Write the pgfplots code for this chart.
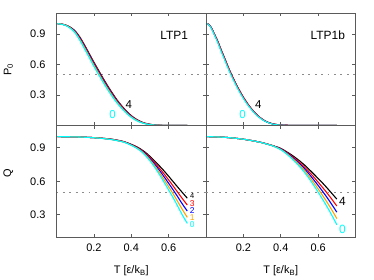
\documentclass[border=0pt]{standalone}
\usepackage{fontspec}
\setmainfont{Liberation Sans}
\usepackage{pgfplots}
\usepackage{pgfplotstable}
\pgfplotsset{compat=1.18}
\definecolor{fr}{RGB}{90,90,90}
\definecolor{dotg}{RGB}{140,140,140}
\definecolor{cy}{RGB}{0,255,255}
\definecolor{orr}{RGB}{255,165,0}
\definecolor{bl}{RGB}{0,0,255}
\definecolor{rd}{RGB}{255,0,0}

% P0, LTP1
\pgfplotstableread{
T c0 c1 c2 c3 c4
0.005 1.000 1.000 1.000 1.000 1.000
0.025 0.995 0.996 0.996 0.997 0.997
0.05 0.981 0.983 0.984 0.985 0.986
0.075 0.953 0.957 0.960 0.962 0.964
0.1 0.908 0.914 0.920 0.924 0.928
0.125 0.836 0.846 0.855 0.862 0.868
0.15 0.753 0.765 0.775 0.783 0.790
0.175 0.667 0.679 0.690 0.698 0.706
0.2 0.581 0.594 0.605 0.614 0.622
0.225 0.501 0.514 0.525 0.534 0.542
0.25 0.422 0.434 0.445 0.454 0.462
0.275 0.348 0.360 0.370 0.378 0.386
0.3 0.280 0.291 0.300 0.308 0.315
0.325 0.218 0.227 0.235 0.242 0.248
0.35 0.165 0.173 0.180 0.186 0.191
0.375 0.118 0.124 0.130 0.135 0.139
0.4 0.080 0.085 0.090 0.094 0.097
0.425 0.051 0.055 0.058 0.061 0.064
0.45 0.030 0.033 0.035 0.037 0.039
0.475 0.017 0.018 0.020 0.021 0.022
0.5 0.008 0.009 0.010 0.011 0.012
0.525 0.004 0.004 0.005 0.005 0.006
0.55 0.001 0.002 0.002 0.002 0.003
0.6 0.000 0.000 0.000 0.000 0.000
0.65 0.000 0.000 0.000 0.000 0.000
0.7 0.000 0.000 0.000 0.000 0.000
}\tabTL

% P0, LTP1b
\pgfplotstableread{
T c0 c4
0.006 1.000 1.000
0.015 0.989 0.992
0.028 0.955 0.961
0.045 0.888 0.897
0.063 0.813 0.825
0.080 0.731 0.745
0.099 0.648 0.662
0.116 0.570 0.584
0.134 0.494 0.508
0.152 0.425 0.439
0.170 0.360 0.373
0.188 0.301 0.313
0.205 0.250 0.261
0.223 0.202 0.212
0.241 0.160 0.168
0.258 0.124 0.131
0.276 0.092 0.098
0.294 0.066 0.071
0.312 0.045 0.048
0.330 0.030 0.032
0.347 0.019 0.021
0.365 0.011 0.013
0.383 0.006 0.008
0.42 0.002 0.003
0.46 0.001 0.001
0.5 0.000 0.000
0.6 0.000 0.000
0.7 0.000 0.000
}\tabTR

% Q, LTP1
\pgfplotstableread{
T c0 c1 c2 c3 c4
0.005 1.000 1.000 1.000 1.000 1.000
0.05 0.999 0.999 0.999 0.999 0.999
0.1 0.998 0.998 0.998 0.998 0.998
0.15 0.995 0.995 0.995 0.995 0.995
0.2 0.990 0.991 0.991 0.991 0.991
0.25 0.983 0.984 0.984 0.985 0.985
0.3 0.972 0.973 0.974 0.975 0.976
0.35 0.955 0.956 0.957 0.959 0.960
0.375 0.941 0.943 0.945 0.946 0.947
0.4 0.922 0.924 0.927 0.929 0.931
0.425 0.900 0.903 0.906 0.909 0.913
0.45 0.872 0.876 0.880 0.884 0.889
0.475 0.832 0.839 0.846 0.852 0.860
0.5 0.783 0.793 0.803 0.812 0.823
0.525 0.727 0.740 0.754 0.767 0.782
0.55 0.662 0.680 0.700 0.718 0.739
0.575 0.593 0.617 0.642 0.667 0.694
0.6 0.522 0.552 0.582 0.612 0.645
0.625 0.450 0.485 0.521 0.556 0.595
0.65 0.372 0.414 0.457 0.498 0.545
0.675 0.293 0.342 0.392 0.441 0.496
0.7 0.222 0.276 0.333 0.387 0.448
}\tabBL

% Q, LTP1b
\pgfplotstableread{
T c0 c1 c2 c3 c4
0.005 1.000 1.000 1.000 1.000 1.000
0.05 0.998 0.998 0.998 0.998 0.998
0.1 0.994 0.994 0.994 0.994 0.994
0.15 0.987 0.987 0.987 0.987 0.987
0.2 0.977 0.977 0.977 0.977 0.977
0.25 0.963 0.963 0.963 0.963 0.963
0.3 0.945 0.945 0.946 0.946 0.946
0.35 0.921 0.922 0.922 0.923 0.923
0.375 0.904 0.905 0.907 0.908 0.910
0.4 0.883 0.886 0.889 0.892 0.895
0.425 0.853 0.857 0.862 0.866 0.871
0.45 0.817 0.824 0.831 0.837 0.845
0.475 0.776 0.786 0.796 0.805 0.816
0.5 0.733 0.745 0.758 0.770 0.784
0.525 0.684 0.700 0.716 0.731 0.749
0.55 0.628 0.647 0.668 0.687 0.709
0.575 0.567 0.591 0.616 0.641 0.668
0.6 0.503 0.532 0.563 0.592 0.625
0.625 0.435 0.470 0.507 0.542 0.582
0.65 0.365 0.406 0.449 0.490 0.536
0.675 0.290 0.338 0.387 0.435 0.488
0.7 0.210 0.265 0.323 0.378 0.440
}\tabBR

\pgfplotsset{
  panel/.style={
    scale only axis, width=149.5bp,
    xmin=0, xmax=0.8, xtick={0.2,0.4,0.6}, ytick={0.3,0.6,0.9},
    tick align=inside, major tick length=3bp,
    axis line style={fr, line width=0.8bp},
    tick style={fr, line width=0.6bp},
    tick label style={font=\fontsize{11}{13}\selectfont,
      /pgf/number format/assume math mode=true, /pgf/number format/fixed},
    yticklabel style={xshift=-7.5bp},
    xticklabel style={yshift=-3bp},
    label style={font=\fontsize{11}{13}\selectfont},
    every axis plot/.append style={line width=1.1bp, smooth},
  },
  toprow/.style={height=112bp, ymin=0, ymax=1.1, xticklabels={}},
  botrow/.style={height=111.5bp, ymin=0.1, ymax=1.1,
    xlabel={T [ε/k\textsubscript{B}]},
    xlabel style={at={(axis description cs:0.5,-0.305)}, anchor=center}},
  dotl/.style={dotg, line width=1.1bp, dash pattern=on 1.8bp off 4.6bp, sharp plot},
}

\begin{document}
\begin{tikzpicture}
\path[use as bounding box] (0,0) rectangle (374bp,280bp);

% top left
\begin{axis}[panel, toprow, at={(56.5bp,154.5bp)}, anchor=south west,
  ylabel={P\textsubscript{0}},
  ylabel style={at={(axis description cs:-0.322,0.5)}, anchor=center}]
\addplot[dotl] coordinates {(0,0.5) (0.8,0.5)};
\addplot[black] table[x=T,y=c4] {\tabTL};
\addplot[rd] table[x=T,y=c3] {\tabTL};
\addplot[bl] table[x=T,y=c2] {\tabTL};
\addplot[orr] table[x=T,y=c1] {\tabTL};
\addplot[cy] table[x=T,y=c0] {\tabTL};
\node[font=\fontsize{12}{14}\selectfont] at (axis cs:0.63,0.888) {LTP1};
\node[font=\fontsize{11.5}{13}\selectfont, text=black] at (axis cs:0.387,0.21) {4};
\node[font=\fontsize{11.5}{13}\selectfont, text=cy] at (axis cs:0.30,0.11) {0};
\end{axis}

% top right
\begin{axis}[panel, toprow, at={(206bp,154.5bp)}, anchor=south west, yticklabels={}]
\addplot[dotl] coordinates {(0,0.5) (0.8,0.5)};
\addplot[black] table[x=T,y=c4] {\tabTR};
\addplot[orr] table[x=T,y=c4] {\tabTR};
\addplot[bl] table[x=T,y=c4] {\tabTR};
\addplot[rd] table[x=T,y=c4] {\tabTR};
\addplot[cy] table[x=T,y=c0] {\tabTR};
\node[font=\fontsize{12}{14}\selectfont] at (axis cs:0.652,0.888) {LTP1b};
\node[font=\fontsize{11.5}{13}\selectfont, text=black] at (axis cs:0.28,0.21) {4};
\node[font=\fontsize{11.5}{13}\selectfont, text=cy] at (axis cs:0.196,0.108) {0};
\end{axis}

% bottom left
\begin{axis}[panel, botrow, at={(56.5bp,43bp)}, anchor=south west,
  ylabel={Q},
  ylabel style={at={(axis description cs:-0.322,0.574)}, anchor=center}]
\addplot[dotl] coordinates {(0,0.5) (0.8,0.5)};
\addplot[black] table[x=T,y=c4] {\tabBL};
\addplot[rd] table[x=T,y=c3] {\tabBL};
\addplot[bl] table[x=T,y=c2] {\tabBL};
\addplot[orr] table[x=T,y=c1] {\tabBL};
\addplot[cy] table[x=T,y=c0] {\tabBL};
\node[font=\fontsize{7.5}{8}\selectfont, text=black] at (axis cs:0.726,0.464) {4};
\node[font=\fontsize{8.5}{9}\selectfont, text=rd] at (axis cs:0.726,0.398) {3};
\node[font=\fontsize{8.5}{9}\selectfont, text=bl] at (axis cs:0.726,0.335) {2};
\node[font=\fontsize{8.5}{9}\selectfont, text=orr] at (axis cs:0.726,0.272) {1};
\node[font=\fontsize{8.5}{9}\selectfont, text=cy] at (axis cs:0.726,0.21) {0};
\end{axis}

% bottom right
\begin{axis}[panel, botrow, at={(206bp,43bp)}, anchor=south west, yticklabels={}]
\addplot[dotl] coordinates {(0,0.5) (0.8,0.5)};
\addplot[black] table[x=T,y=c4] {\tabBR};
\addplot[rd] table[x=T,y=c3] {\tabBR};
\addplot[bl] table[x=T,y=c2] {\tabBR};
\addplot[orr] table[x=T,y=c1] {\tabBR};
\addplot[cy] table[x=T,y=c0] {\tabBR};
\node[font=\fontsize{12}{14}\selectfont, text=black] at (axis cs:0.73,0.42) {4};
\node[font=\fontsize{12}{14}\selectfont, text=cy] at (axis cs:0.73,0.164) {0};
\end{axis}
\end{tikzpicture}
\end{document}
